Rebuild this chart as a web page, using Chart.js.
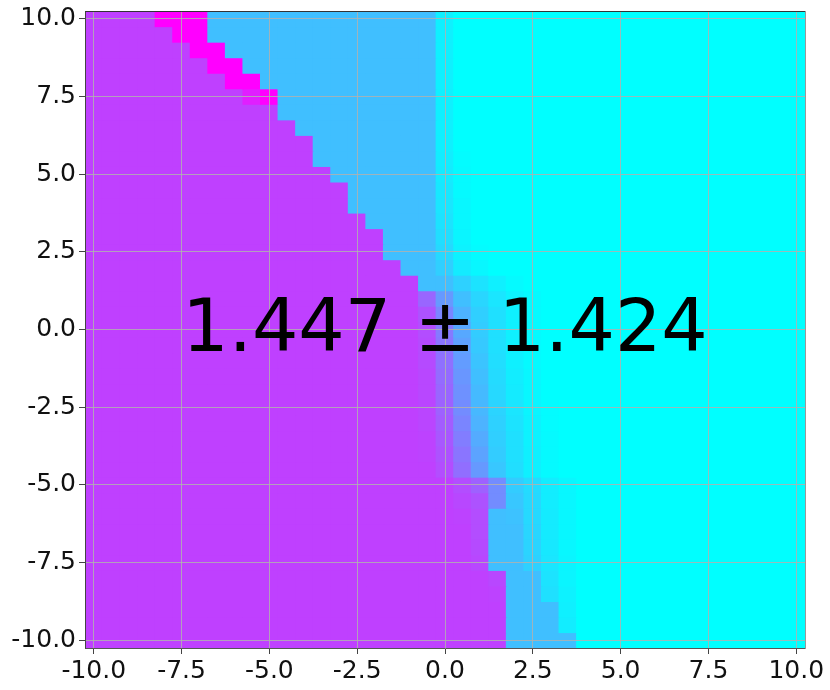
<!DOCTYPE html>
<html><head><meta charset="utf-8">
<script src="https://cdn.jsdelivr.net/npm/chart.js@4.4.1/dist/chart.umd.min.js"></script>
<style>html,body{margin:0;padding:0;background:#fff;}canvas{display:block;}</style>
</head><body>
<canvas id="c" width="830" height="690"></canvas>
<script>
// ---- data ----
const xValues = [-10,-9.5,-9,-8.5,-8,-7.5,-7,-6.5,-6,-5.5,-5,-4.5,-4,-3.5,-3,-2.5,-2,-1.5,-1,-0.5,0,0.5,1,1.5,2,2.5,3,3.5,4,4.5,5,5.5,6,6.5,7,7.5,8,8.5,9,9.5,10];
const yValues = [10,9.5,9,8.5,8,7.5,7,6.5,6,5.5,5,4.5,4,3.5,3,2.5,2,1.5,1,0.5,0,-0.5,-1,-1.5,-2,-2.5,-3,-3.5,-4,-4.5,-5,-5.5,-6,-6.5,-7,-7.5,-8,-8.5,-9,-9.5,-10];
const xTickValues = [-10,-7.5,-5,-2.5,0,2.5,5,7.5,10];
const yTickValues = [-10,-7.5,-5,-2.5,0,2.5,5,7.5,10];
const annotationText = '1.447 \u00b1 1.424';
// cell value (0..100) per row, top row (y=10) first, columns x=-10..10
const zValues = [
[75,75,75,75,100,100,100,25,25,25, 25,25,25,25,25,25,25,25,25,25, 6,0,0,0,0,0,0,0,0,0, 0,0,0,0,0,0,0,0,0,0, 0],
[75,75,75,75,75,100,100,25,25,25, 25,25,25,25,25,25,25,25,25,25, 6,0,0,0,0,0,0,0,0,0, 0,0,0,0,0,0,0,0,0,0, 0],
[75,75,75,75,75,75,100,100,25,25, 25,25,25,25,25,25,25,25,25,25, 6,0,0,0,0,0,0,0,0,0, 0,0,0,0,0,0,0,0,0,0, 0],
[75,75,75,75,75,75,75,100,100,25, 25,25,25,25,25,25,25,25,25,25, 6,0,0,0,0,0,0,0,0,0, 0,0,0,0,0,0,0,0,0,0, 0],
[75,75,75,75,75,75,75,75,100,100, 25,25,25,25,25,25,25,25,25,25, 6,0,0,0,0,0,0,0,0,0, 0,0,0,0,0,0,0,0,0,0, 0],
[75,75,75,75,75,75,75,75,75,88, 100,25,25,25,25,25,25,25,25,25, 6,0,0,0,0,0,0,0,0,0, 0,0,0,0,0,0,0,0,0,0, 0],
[75,75,75,75,75,75,75,75,75,75, 75,25,25,25,25,25,25,25,25,25, 6,0,0,0,0,0,0,0,0,0, 0,0,0,0,0,0,0,0,0,0, 0],
[75,75,75,75,75,75,75,75,75,75, 75,75,25,25,25,25,25,25,25,25, 6,0,0,0,0,0,0,0,0,0, 0,0,0,0,0,0,0,0,0,0, 0],
[75,75,75,75,75,75,75,75,75,75, 75,75,75,25,25,25,25,25,25,25, 6,0,0,0,0,0,0,0,0,0, 0,0,0,0,0,0,0,0,0,0, 0],
[75,75,75,75,75,75,75,75,75,75, 75,75,75,25,25,25,25,25,25,25, 7,1,0,0,0,0,0,0,0,0, 0,0,0,0,0,0,0,0,0,0, 0],
[75,75,75,75,75,75,75,75,75,75, 75,75,75,75,25,25,25,25,25,25, 8,2,0,0,0,0,0,0,0,0, 0,0,0,0,0,0,0,0,0,0, 0],
[75,75,75,75,75,75,75,75,75,75, 75,75,75,75,75,25,25,25,25,25, 9,2,0,0,0,0,0,0,0,0, 0,0,0,0,0,0,0,0,0,0, 0],
[75,75,75,75,75,75,75,75,75,75, 75,75,75,75,75,25,25,25,25,25, 10,3,0,0,0,0,0,0,0,0, 0,0,0,0,0,0,0,0,0,0, 0],
[75,75,75,75,75,75,75,75,75,75, 75,75,75,75,75,75,25,25,25,25, 11,3,0,0,0,0,0,0,0,0, 0,0,0,0,0,0,0,0,0,0, 0],
[75,75,75,75,75,75,75,75,75,75, 75,75,75,75,75,75,75,25,25,25, 13,4,0,0,0,0,0,0,0,0, 0,0,0,0,0,0,0,0,0,0, 0],
[75,75,75,75,75,75,75,75,75,75, 75,75,75,75,75,75,75,25,25,25, 15,5,1,0,0,0,0,0,0,0, 0,0,0,0,0,0,0,0,0,0, 0],
[75,75,75,75,75,75,75,75,75,75, 75,75,75,75,75,75,75,75,25,25, 19,8,3,0,0,0,0,0,0,0, 0,0,0,0,0,0,0,0,0,0, 0],
[75,75,75,75,75,75,75,75,75,75, 75,75,75,75,75,75,75,75,75,25, 25,18,11,6,2,0,0,0,0,0, 0,0,0,0,0,0,0,0,0,0, 0],
[75,75,75,75,75,75,75,75,75,75, 75,75,75,75,75,75,75,75,75,60, 40,25,16,10,5,2,0,0,0,0, 0,0,0,0,0,0,0,0,0,0, 0],
[75,75,75,75,75,75,75,75,75,75, 75,75,75,75,75,75,75,75,75,68, 48,30,19,12,6,2,0,0,0,0, 0,0,0,0,0,0,0,0,0,0, 0],
[75,75,75,75,75,75,75,75,75,75, 75,75,75,75,75,75,75,75,75,70, 52,34,20,12,6,2,0,0,0,0, 0,0,0,0,0,0,0,0,0,0, 0],
[75,75,75,75,75,75,75,75,75,75, 75,75,75,75,75,75,75,75,75,71, 54,37,21,12,6,2,0,0,0,0, 0,0,0,0,0,0,0,0,0,0, 0],
[75,75,75,75,75,75,75,75,75,75, 75,75,75,75,75,75,75,75,75,71, 56,39,23,13,6,2,0,0,0,0, 0,0,0,0,0,0,0,0,0,0, 0],
[75,75,75,75,75,75,75,75,75,75, 75,75,75,75,75,75,75,75,75,72, 58,41,25,14,7,3,0,0,0,0, 0,0,0,0,0,0,0,0,0,0, 0],
[75,75,75,75,75,75,75,75,75,75, 75,75,75,75,75,75,75,75,75,72, 60,43,27,15,8,3,0,0,0,0, 0,0,0,0,0,0,0,0,0,0, 0],
[75,75,75,75,75,75,75,75,75,75, 75,75,75,75,75,75,75,75,75,73, 62,45,28,17,10,4,1,0,0,0, 0,0,0,0,0,0,0,0,0,0, 0],
[75,75,75,75,75,75,75,75,75,75, 75,75,75,75,75,75,75,75,75,73, 64,48,30,18,11,5,1,0,0,0, 0,0,0,0,0,0,0,0,0,0, 0],
[75,75,75,75,75,75,75,75,75,75, 75,75,75,75,75,75,75,75,75,74, 66,51,33,19,12,5,2,0,0,0, 0,0,0,0,0,0,0,0,0,0, 0],
[75,75,75,75,75,75,75,75,75,75, 75,75,75,75,75,75,75,75,75,74, 68,54,36,20,12,6,2,0,0,0, 0,0,0,0,0,0,0,0,0,0, 0],
[75,75,75,75,75,75,75,75,75,75, 75,75,75,75,75,75,75,75,75,75, 70,57,40,22,13,6,2,0,0,0, 0,0,0,0,0,0,0,0,0,0, 0],
[75,75,75,75,75,75,75,75,75,75, 75,75,75,75,75,75,75,75,75,75, 75,70,62,45,20,14,7,3,0,0, 0,0,0,0,0,0,0,0,0,0, 0],
[75,75,75,75,75,75,75,75,75,75, 75,75,75,75,75,75,75,75,75,75, 75,72,68,45,22,15,7,3,0,0, 0,0,0,0,0,0,0,0,0,0, 0],
[75,75,75,75,75,75,75,75,75,75, 75,75,75,75,75,75,75,75,75,75, 75,74,70,25,24,15,8,3,0,0, 0,0,0,0,0,0,0,0,0,0, 0],
[75,75,75,75,75,75,75,75,75,75, 75,75,75,75,75,75,75,75,75,75, 75,75,70,25,25,16,8,3,0,0, 0,0,0,0,0,0,0,0,0,0, 0],
[75,75,75,75,75,75,75,75,75,75, 75,75,75,75,75,75,75,75,75,75, 75,75,71,25,25,17,9,3,0,0, 0,0,0,0,0,0,0,0,0,0, 0],
[75,75,75,75,75,75,75,75,75,75, 75,75,75,75,75,75,75,75,75,75, 75,75,72,25,25,18,10,4,0,0, 0,0,0,0,0,0,0,0,0,0, 0],
[75,75,75,75,75,75,75,75,75,75, 75,75,75,75,75,75,75,75,75,75, 75,75,75,72,25,25,11,4,0,0, 0,0,0,0,0,0,0,0,0,0, 0],
[75,75,75,75,75,75,75,75,75,75, 75,75,75,75,75,75,75,75,75,75, 75,75,75,74,25,25,12,5,0,0, 0,0,0,0,0,0,0,0,0,0, 0],
[75,75,75,75,75,75,75,75,75,75, 75,75,75,75,75,75,75,75,75,75, 75,75,75,75,25,25,25,6,0,0, 0,0,0,0,0,0,0,0,0,0, 0],
[75,75,75,75,75,75,75,75,75,75, 75,75,75,75,75,75,75,75,75,75, 75,75,75,75,25,25,25,7,0,0, 0,0,0,0,0,0,0,0,0,0, 0],
[75,75,75,75,75,75,75,75,75,75, 75,75,75,75,75,75,75,75,75,75, 75,75,75,75,25,25,25,25,0,0, 0,0,0,0,0,0,0,0,0,0, 0]
];

// ---- styling ----
const coolColor = v => `rgb(${Math.round(255*v)},${Math.round(255*(1-v))},255)`;
const half = Math.abs(xValues[1] - xValues[0]) / 2;
const tickFont = {family: 'DejaVu Sans', size: 25};
Chart.defaults.font.family = 'DejaVu Sans';

const datasets = yValues.map((yc, j) => ({
  data: xValues.map(x => ({x: x, y: [yc - half, yc + half]})),
  backgroundColor: zValues[j].map(z => coolColor(z / 100)),
  borderWidth: 0,
  grouped: false,
  barPercentage: 1,
  categoryPercentage: 1,
  inflateAmount: 0.6
}));

const centerText = {
  id: 'centerText',
  afterDraw(chart) {
    const {ctx, chartArea: a} = chart;
    const size = 73;
    ctx.save();
    ctx.font = size + 'px "DejaVu Sans"';
    ctx.fillStyle = '#000';
    ctx.textAlign = 'center';
    ctx.textBaseline = 'alphabetic';
    ctx.fillText(annotationText, (a.left + a.right) / 2, (a.top + a.bottom) / 2 + 0.295 * size);
    ctx.restore();
  }
};

const gridColor = 'rgba(176,176,176,0.85)';

new Chart(document.getElementById('c'), {
  type: 'bar',
  data: {datasets},
  plugins: [centerText],
  options: {
    responsive: false,
    animation: false,
    devicePixelRatio: 1,
    layout: {padding: {left: 0, right: 25, top: 11, bottom: 0}},
    plugins: {legend: {display: false}, tooltip: {enabled: false}},
    scales: {
      x: {
        type: 'linear', position: 'bottom',
        min: xValues[0] - half, max: xValues[xValues.length - 1] + half, offset: false,
        afterBuildTicks: s => { s.ticks = xTickValues.map(v => ({value: v})); },
        ticks: {callback: v => Number(v).toFixed(1), font: tickFont, color: '#111', padding: 2, maxRotation: 0, autoSkip: false, z: 2},
        grid: {z: 1, offset: false, color: gridColor, lineWidth: 1, tickLength: 6, tickColor: '#444', tickWidth: 1},
        border: {display: true, color: '#555', width: 1, z: 2},
        afterFit: s => { s.height = 42; s.paddingLeft = 0; s.paddingRight = 0; }
      },
      y: {
        type: 'linear', position: 'left',
        min: yValues[yValues.length - 1] - half, max: yValues[0] + half,
        afterBuildTicks: s => { s.ticks = yTickValues.map(v => ({value: v})); },
        ticks: {callback: v => Number(v).toFixed(1), font: tickFont, color: '#111', padding: 3, autoSkip: false, z: 2},
        grid: {z: 1, offset: false, color: gridColor, lineWidth: 1, tickLength: 6, tickColor: '#444', tickWidth: 1},
        border: {display: true, color: '#444', width: 1, z: 2},
        afterFit: s => { s.width = 85; s.paddingTop = 0; s.paddingBottom = 0; }
      },
      xTop: {
        type: 'linear', position: 'top', min: 0, max: 1,
        ticks: {display: false}, grid: {display: false, drawTicks: false},
        border: {display: true, color: '#333', width: 1, z: 2},
        afterFit: s => { s.height = 0; s.paddingLeft = 0; s.paddingRight = 0; }
      },
      yRight: {
        type: 'linear', position: 'right', min: 0, max: 1,
        ticks: {display: false}, grid: {display: false, drawTicks: false},
        border: {display: true, color: '#999', width: 1, z: 2},
        afterFit: s => { s.width = 0; s.paddingTop = 0; s.paddingBottom = 0; }
      }
    }
  }
});
</script>
</body></html>
